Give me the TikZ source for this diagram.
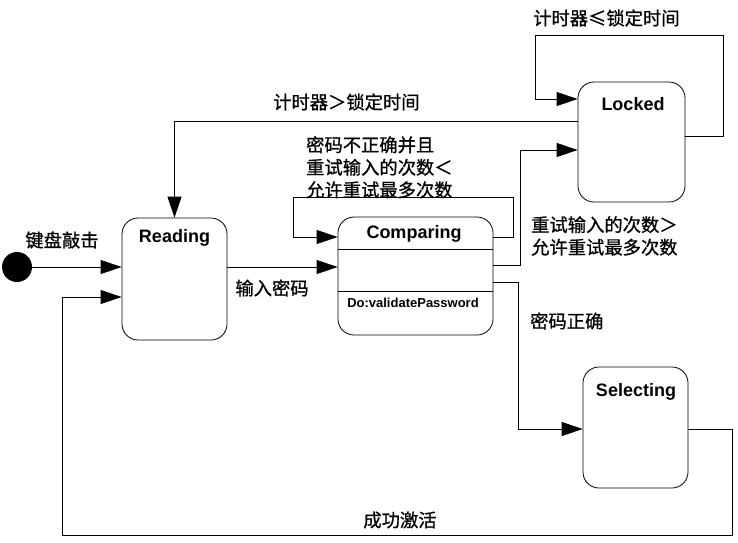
\documentclass[tikz,border=0pt]{standalone}
\usepackage{fontspec}
\setmainfont{Liberation Sans}
\newfontfamily\cjk[FakeBold=0.8]{Noto Sans CJK SC}
\usetikzlibrary{arrows.meta}
\tikzset{
  state/.style={draw, line width=0.8pt, rounded corners=16pt, inner sep=0pt},
  title/.style={font=\fontsize{18}{20}\selectfont\bfseries, inner sep=0pt},
  lbl/.style={font=\cjk\fontsize{18.3}{22.5}\selectfont, inner sep=0pt, align=left},
  arr/.style={line width=0.8pt, -{Triangle[length=21pt,width=14pt]}},
  ln/.style={line width=0.8pt}
}
\begin{document}
\begin{tikzpicture}[x=1pt,y=-1pt]
\useasboundingbox (0,0) rectangle (738,542);
% states
\node[circle, fill=black, minimum size=30pt, inner sep=0pt] (start) at (17,267) {};
\node[state, minimum width=105pt, minimum height=122pt] (Reading) at (174.5,279) {};
\node[title] (tReading) at (174.5,238) {Reading};
\node[state, minimum width=155pt, minimum height=118pt] (Comparing) at (415.5,276) {};
\node[title] (tComparing) at (414,234) {Comparing};
\draw[ln] (Comparing.west |- 0,249) -- (Comparing.east |- 0,249);
\draw[ln] (Comparing.west |- 0,291) -- (Comparing.east |- 0,291);
\node[font=\fontsize{13}{15}\selectfont\bfseries, inner sep=0pt] (doact) at (413,303) {Do:validatePassword};
\node[state, minimum width=107pt, minimum height=120pt] (Locked) at (631.5,142) {};
\node[title] (tLocked) at (633,104) {Locked};
\node[state, minimum width=105pt, minimum height=121pt] (Selecting) at (635.5,427.5) {};
\node[title] (tSelecting) at (636,392) {Selecting};
% connectors
\draw[arr] (start) -- (start -| Reading.west);
\draw[arr] (Reading.east |- 0,267) -- (Comparing.west |- 0,267);
\draw[arr] (Comparing.east |- 0,237) -- (513,237) -- (513,197) -- (293,197) -- (293,237) -- (Comparing.west |- 0,237);
\draw[arr] (Comparing.east |- 0,265) -- (520,265) -- (520,150) -- (Locked.west |- 0,150);
\draw[arr] (Comparing.east |- 0,282) -- (518,282) -- (518,429) -- (Selecting.west |- 0,429);
\draw[arr] (Locked.east |- 0,136) -- (723,136) -- (723,35) -- (535,35) -- (535,99) -- (Locked.west |- 0,99);
\draw[arr] (Locked.west |- 0,121) -| (Reading.north);
\draw[arr] (Selecting.east |- 0,429) -- (732,429) -- (732,535) -- (62,535) -- (62,297) -- (Reading.west |- 0,297);
% labels
\node[lbl] (l1) at (62,240) {键盘敲击};
\node[lbl] (l2) at (272,288) {输入密码};
\node[lbl, anchor=west] (l3) at (273,102) {计时器＞锁定时间};
\node[lbl, anchor=west] (l4) at (533,18) {计时器≤锁定时间};
\node[lbl, anchor=north west] (l5) at (306,136) {密码不正确并且\\重试输入的次数＜\\允许重试最多次数};
\node[lbl, anchor=north west] (l6) at (531,216) {重试输入的次数＞\\允许重试最多次数};
\node[lbl, anchor=west] (l7) at (530,321) {密码正确};
\node[lbl] (l8) at (400,520) {成功激活};
\end{tikzpicture}
\end{document}
